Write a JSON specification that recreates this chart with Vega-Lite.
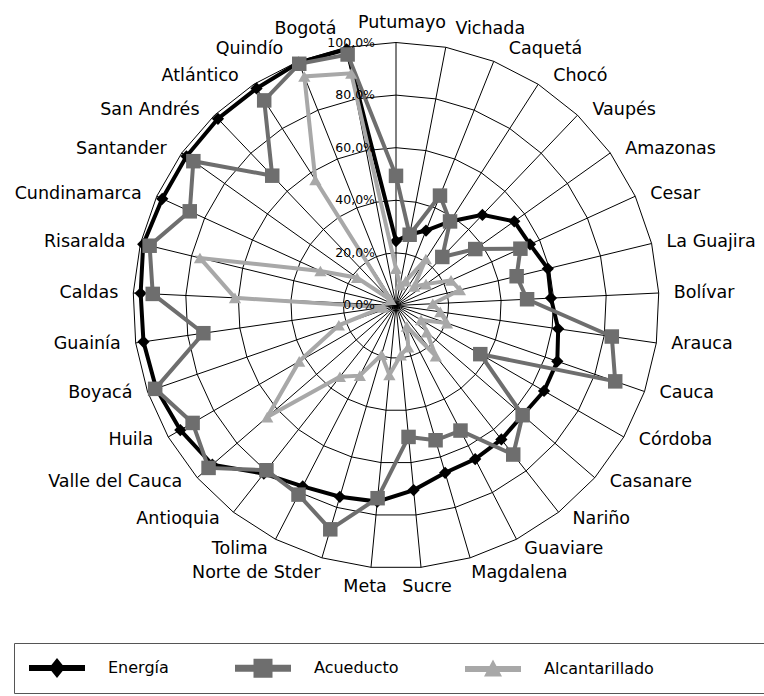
{
"$schema": "https://vega.github.io/schema/vega-lite/v6.json",
"width": 764, "height": 696, "autosize": {"type": "none"}, "padding": 0,
"background": "white",
"config": {"view": {"stroke": null}, "font": "DejaVu Sans"},
"data": {"values": [
{"r":"Putumayo","Energía":24.5,"Acueducto":49.3,"Alcantarillado":14},
{"r":"Vichada","Energía":27.5,"Acueducto":27.4,"Alcantarillado":8},
{"r":"Caquetá","Energía":30.7,"Acueducto":45,"Alcantarillado":10},
{"r":"Chocó","Energía":38,"Acueducto":38,"Alcantarillado":21},
{"r":"Vaupés","Energía":47.6,"Acueducto":25.5,"Alcantarillado":10},
{"r":"Amazonas","Energía":55.2,"Acueducto":37,"Alcantarillado":14},
{"r":"Cesar","Energía":56,"Acueducto":52,"Alcantarillado":23},
{"r":"La Guajira","Energía":59.4,"Acueducto":47.2,"Alcantarillado":25},
{"r":"Bolívar","Energía":59,"Acueducto":49.9,"Alcantarillado":14},
{"r":"Arauca","Energía":62.3,"Acueducto":82.9,"Alcantarillado":17},
{"r":"Cauca","Energía":64.9,"Acueducto":88.2,"Alcantarillado":20.5},
{"r":"Córdoba","Energía":65,"Acueducto":37,"Alcantarillado":11},
{"r":"Casanare","Energía":63.7,"Acueducto":63.7,"Alcantarillado":15.5},
{"r":"Nariño","Energía":64.8,"Acueducto":72.1,"Alcantarillado":24.5},
{"r":"Guaviare","Energía":65.7,"Acueducto":53.5,"Alcantarillado":9},
{"r":"Magdalena","Energía":66.3,"Acueducto":53.4,"Alcantarillado":16.5},
{"r":"Sucre","Energía":70.5,"Acueducto":50.2,"Alcantarillado":19},
{"r":"Meta","Energía":74.9,"Acueducto":73.6,"Alcantarillado":26.5},
{"r":"Norte de Stder","Energía":75.8,"Acueducto":88.7,"Alcantarillado":19.5},
{"r":"Tolima","Energía":77.4,"Acueducto":80.9,"Alcantarillado":30},
{"r":"Antioquia","Energía":81.3,"Acueducto":79.7,"Alcantarillado":34.5},
{"r":"Valle del Cauca","Energía":92.4,"Acueducto":94.3,"Alcantarillado":64.8},
{"r":"Huila","Energía":94.7,"Acueducto":89.3,"Alcantarillado":42.5},
{"r":"Boyacá","Energía":96.5,"Acueducto":96.9,"Alcantarillado":23},
{"r":"Guainía","Energía":97,"Acueducto":74,"Alcantarillado":5},
{"r":"Caldas","Energía":97.2,"Acueducto":92.6,"Alcantarillado":61.3},
{"r":"Risaralda","Energía":98.9,"Acueducto":96.4,"Alcantarillado":76.7},
{"r":"Cundinamarca","Energía":97.7,"Acueducto":86.2,"Alcantarillado":31.6},
{"r":"Santander","Energía":97.8,"Acueducto":94.6,"Alcantarillado":18.2},
{"r":"San Andrés","Energía":98.1,"Acueducto":68.2,"Alcantarillado":3},
{"r":"Atlántico","Energía":98.1,"Acueducto":92.7,"Alcantarillado":56.7},
{"r":"Quindío","Energía":99.5,"Acueducto":99,"Alcantarillado":93.8},
{"r":"Bogotá","Energía":99.2,"Acueducto":97.2,"Alcantarillado":89.9}
]},
"transform": [
{"window": [{"op": "row_number", "as": "i"}]},
{"calculate": "(datum.i-1)*2*PI/33", "as": "a"},
{"calculate": "sin(datum.a)", "as": "sx"},
{"calculate": "cos(datum.a)", "as": "sy"}
],
"layer": [
{"mark": {"type": "rule", "color": "black", "strokeWidth": 1},
 "encoding": {
  "x": {"field": "sx", "type": "quantitative", "scale": {"domain": [-1.5057, 1.3992], "nice": false, "zero": false}, "axis": null},
  "y": {"field": "sy", "type": "quantitative", "scale": {"domain": [-1.4848, 1.1616], "nice": false, "zero": false}, "axis": null},
  "x2": {"datum": 0}, "y2": {"datum": 0}}},
{"transform": [
  {"calculate": "[0.2,0.4,0.6,0.8,1]", "as": "lv"},
  {"flatten": ["lv"]},
  {"calculate": "datum.lv*datum.sx", "as": "gx"},
  {"calculate": "datum.lv*datum.sy", "as": "gy"}],
 "mark": {"type": "line", "interpolate": "linear-closed", "color": "black", "strokeWidth": 1},
 "encoding": {
  "x": {"field": "gx", "type": "quantitative", "scale": {"domain": [-1.5057, 1.3992], "nice": false, "zero": false}, "axis": null},
  "y": {"field": "gy", "type": "quantitative", "scale": {"domain": [-1.4848, 1.1616], "nice": false, "zero": false}, "axis": null},
  "detail": {"field": "lv", "type": "nominal"},
  "order": {"field": "i", "type": "quantitative"}}},
{"transform": [
  {"fold": ["Energía", "Acueducto", "Alcantarillado"], "as": ["serie", "val"]},
  {"filter": "datum.serie == 'Energía'"},
  {"calculate": "datum.val/100*datum.sx", "as": "px"},
  {"calculate": "datum.val/100*datum.sy", "as": "py"}],
 "encoding": {
  "x": {"field": "px", "type": "quantitative", "scale": {"domain": [-1.5057, 1.3992], "nice": false, "zero": false}, "axis": null},
  "y": {"field": "py", "type": "quantitative", "scale": {"domain": [-1.4848, 1.1616], "nice": false, "zero": false}, "axis": null},
  "order": {"field": "i", "type": "quantitative"}},
 "layer": [
  {"mark": {"type": "line", "interpolate": "linear-closed", "color": "black", "strokeWidth": 4}},
  {"mark": {"type": "point", "shape": "diamond", "filled": true, "color": "black", "opacity": 1, "size": 150}}]},
{"transform": [
  {"fold": ["Energía", "Acueducto", "Alcantarillado"], "as": ["serie", "val"]},
  {"filter": "datum.serie == 'Acueducto'"},
  {"calculate": "datum.val/100*datum.sx", "as": "px"},
  {"calculate": "datum.val/100*datum.sy", "as": "py"}],
 "encoding": {
  "x": {"field": "px", "type": "quantitative", "scale": {"domain": [-1.5057, 1.3992], "nice": false, "zero": false}, "axis": null},
  "y": {"field": "py", "type": "quantitative", "scale": {"domain": [-1.4848, 1.1616], "nice": false, "zero": false}, "axis": null},
  "order": {"field": "i", "type": "quantitative"}},
 "layer": [
  {"mark": {"type": "line", "interpolate": "linear-closed", "color": "#6e6e6e", "strokeWidth": 4}},
  {"mark": {"type": "point", "shape": "square", "filled": true, "color": "#6e6e6e", "opacity": 1, "size": 210}}]},
{"transform": [
  {"fold": ["Energía", "Acueducto", "Alcantarillado"], "as": ["serie", "val"]},
  {"filter": "datum.serie == 'Alcantarillado'"},
  {"calculate": "datum.val/100*datum.sx", "as": "px"},
  {"calculate": "datum.val/100*datum.sy", "as": "py"}],
 "encoding": {
  "x": {"field": "px", "type": "quantitative", "scale": {"domain": [-1.5057, 1.3992], "nice": false, "zero": false}, "axis": null},
  "y": {"field": "py", "type": "quantitative", "scale": {"domain": [-1.4848, 1.1616], "nice": false, "zero": false}, "axis": null},
  "order": {"field": "i", "type": "quantitative"}},
 "layer": [
  {"mark": {"type": "line", "interpolate": "linear-closed", "color": "#a8a8a8", "strokeWidth": 4}},
  {"mark": {"type": "point", "shape": "triangle-up", "filled": true, "color": "#a8a8a8", "opacity": 1, "size": 150}}]},
{"data": {"values": [{"t":"0,0%","v":0},{"t":"20,0%","v":0.2},{"t":"40,0%","v":0.4},{"t":"60,0%","v":0.6},{"t":"80,0%","v":0.8},{"t":"100,0%","v":1}]},
 "mark": {"type": "text", "align": "right", "baseline": "middle", "dx": -21, "fontSize": 12.5, "color": "black"},
 "encoding": {
  "x": {"datum": 0, "type": "quantitative", "scale": {"domain": [-1.5057, 1.3992], "nice": false, "zero": false}, "axis": null},
  "y": {"field": "v", "type": "quantitative", "scale": {"domain": [-1.4848, 1.1616], "nice": false, "zero": false}, "axis": null},
  "text": {"field": "t"}}},
{"transform": [
  {"calculate": "datum.sx > 0.12 ? 'L' : (datum.sx < -0.12 ? 'R' : 'C')", "as": "side"},
  {"calculate": "datum.side == 'C' ? 6 : (datum.sy > -0.7 ? 15*min(1, (abs(datum.sx)+0.1)/0.45) : 15*max(0, min(1, (abs(datum.sx)-0.25)/0.4)))", "as": "dxp"},
  {"calculate": "6 + 14*pow(abs(datum.sy), 8)", "as": "kp"},
  {"calculate": "datum.sx + (datum.sx >= 0 ? 1 : -1)*datum.dxp/263", "as": "lx"},
  {"calculate": "datum.sy*(1 + datum.kp/263)", "as": "ly"}],
 "encoding": {
  "x": {"field": "lx", "type": "quantitative", "scale": {"domain": [-1.5057, 1.3992], "nice": false, "zero": false}, "axis": null},
  "y": {"field": "ly", "type": "quantitative", "scale": {"domain": [-1.4848, 1.1616], "nice": false, "zero": false}, "axis": null},
  "text": {"field": "r"}},
 "layer": [
  {"transform": [{"filter": "datum.side == 'L'"}], "mark": {"type": "text", "align": "left", "baseline": "middle", "fontSize": 17.5, "color": "black"}},
  {"transform": [{"filter": "datum.side == 'R'"}], "mark": {"type": "text", "align": "right", "baseline": "middle", "fontSize": 17.5, "color": "black"}},
  {"transform": [{"filter": "datum.side == 'C'"}], "mark": {"type": "text", "align": "center", "baseline": "middle", "fontSize": 17.5, "color": "black"}}]},
{"transform": [
  {"fold": ["Energía", "Acueducto", "Alcantarillado"], "as": ["serie", "val"]},
  {"filter": "datum.i == 1"},
  {"calculate": "datum.val/100*datum.sx", "as": "px"},
  {"calculate": "datum.val/100*datum.sy", "as": "py"}],
 "mark": {"type": "point", "filled": true, "opacity": 0},
 "encoding": {
  "x": {"field": "px", "type": "quantitative", "scale": {"domain": [-1.5057, 1.3992], "nice": false, "zero": false}, "axis": null},
  "y": {"field": "py", "type": "quantitative", "scale": {"domain": [-1.4848, 1.1616], "nice": false, "zero": false}, "axis": null},
  "shape": {"field": "serie", "type": "nominal",
   "scale": {"domain": ["Energía", "Acueducto", "Alcantarillado"], "range": [
     "M-2.8,-0.3H2.8V0.3H-2.8Z M0,-1L0.8,0L0,1L-0.8,0Z",
     "M-2.8,-0.35H2.8V0.35H-2.8Z M-0.95,-0.95H0.95V0.95H-0.95Z",
     "M-2.8,-0.3H2.8V0.3H-2.8Z M0,-0.95L0.9,0.75H-0.9Z"]},
   "legend": {"orient": "none", "legendX": 14, "legendY": 643, "direction": "horizontal",
     "title": "\u00a0", "titleOrient": "right", "titlePadding": 98,
     "padding": 15, "strokeColor": "#555", "fillColor": "white", "symbolSize": 400, "symbolOpacity": 1,
     "symbolStrokeWidth": 0, "symbolOffset": 18, "labelFontSize": 16, "labelFont": "DejaVu Sans", "labelColor": "black",
     "columnPadding": 66, "labelOffset": 41}},
  "fill": {"field": "serie", "type": "nominal",
   "scale": {"domain": ["Energía", "Acueducto", "Alcantarillado"], "range": ["black", "#6e6e6e", "#a8a8a8"]},
   "legend": {"orient": "none", "legendX": 14, "legendY": 643, "direction": "horizontal",
     "title": "\u00a0", "titleOrient": "right", "titlePadding": 98,
     "padding": 15, "strokeColor": "#555", "fillColor": "white", "symbolSize": 400, "symbolOpacity": 1,
     "symbolStrokeWidth": 0, "symbolOffset": 18, "labelFontSize": 16, "labelFont": "DejaVu Sans", "labelColor": "black",
     "columnPadding": 66, "labelOffset": 41}}}}
]
}
